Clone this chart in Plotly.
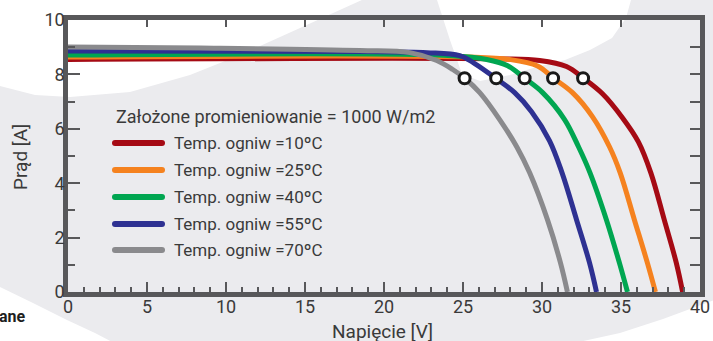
import plotly.graph_objects as go

# ---------------- data ----------------
series_names = ["Temp. ogniw =10ºC", "Temp. ogniw =25ºC", "Temp. ogniw =40ºC",
                "Temp. ogniw =55ºC", "Temp. ogniw =70ºC"]
series_colors = ["#a50a14", "#f5821f", "#00a651", "#2e3192", "#8a8a8d"]

v_10 = [0, 27.32, 29.85, 31.55, 32.63, 33.83, 35.09, 36.10, 36.89, 37.74, 38.50, 38.90]
i_10 = [8.55, 8.57, 8.51, 8.29, 7.86, 7.29, 6.41, 5.52, 4.38, 2.65, 1.07, 0]

v_25 = [0, 25.43, 27.95, 29.72, 30.73, 31.93, 33.19, 34.27, 34.95, 35.85, 36.67, 37.18]
i_25 = [8.64, 8.64, 8.55, 8.31, 7.86, 7.33, 6.45, 5.34, 4.38, 2.65, 1.07, 0]

v_40 = [0, 24.35, 26.50, 27.83, 28.90, 30.04, 31.43, 32.31, 33.04, 34.08, 34.90, 35.41]
i_40 = [8.71, 8.69, 8.55, 8.32, 7.86, 7.33, 6.34, 5.34, 4.38, 2.65, 1.07, 0]

v_55 = [0, 18.48, 22.71, 24.79, 25.74, 27.07, 28.27, 29.34, 30.48, 31.27, 32.19, 33.01, 33.45]
i_55 = [8.86, 8.84, 8.80, 8.69, 8.40, 7.86, 7.33, 6.63, 5.56, 4.38, 2.65, 1.07, 0]

v_70 = [0, 8.37, 18.48, 21.64, 23.34, 24.35, 25.11, 26.06, 27.32, 28.40, 29.22, 30.35, 31.17, 31.61]
i_70 = [9.01, 8.97, 8.88, 8.80, 8.51, 8.18, 7.86, 7.33, 6.34, 5.34, 4.38, 2.65, 1.07, 0]

mpp_v = [25.1, 27.1, 28.9, 30.7, 32.6]
mpp_i = [7.86, 7.86, 7.86, 7.86, 7.86]

series_v = [v_10, v_25, v_40, v_55, v_70]
series_i = [i_10, i_25, i_40, i_55, i_70]

legend_title = "Założone promieniowanie = 1000 W/m2"
x_title = "Napięcie [V]"
y_title = "Prąd [A]"
x_ticks = [0, 5, 10, 15, 20, 25, 30, 35, 40]
y_ticks = [0, 2, 4, 6, 8, 10]

# ---------------- layout geometry ----------------
W, H = 713, 341
L, R, T, B = 68, 700, 20, 292
FRAME = "#58585a"
TXT = "#3a3a3a"
FONT = "Roboto"


def px(x):
    return (x - L) / (R - L)


def py(y):
    return (B - y) / (B - T)


def poly(points):
    return "M " + " L ".join(f"{px(x):.4f},{py(y):.4f}" for x, y in points) + " Z"


fig = go.Figure()

for name, col, vv, ii in zip(series_names, series_colors, series_v, series_i):
    fig.add_trace(go.Scatter(x=vv, y=ii, mode="lines", name=name,
                             line=dict(color=col, width=5, shape="spline", smoothing=1.0),
                             showlegend=False, hoverinfo="skip"))

fig.add_trace(go.Scatter(x=mpp_v, y=mpp_i, mode="markers", xaxis="x2", yaxis="y2",
                         marker=dict(size=11, color="white",
                                     line=dict(color="#1a1a1a", width=3)),
                         showlegend=False, hoverinfo="skip"))

shapes = []
# background white swooshes
white_regions = [
    [(-10, -10), (-10, 86), (0, 86), (35, 95), (70, 97), (130, 92), (190, 75),
     (240, 55), (300, 28), (384, -10)],
    [(433, -10), (437, 0), (450, 40), (462, 74), (480, 81), (510, 75), (540, 66),
     (565, 60), (590, 50), (612, 38), (626, 18), (631, 0), (632, -10)],
    [(-10, 282), (0, 287), (33, 303), (67, 320), (95, 333), (118, 345), (-10, 345)],
    [(565, 345), (620, 333), (663, 319), (720, 298), (720, 345)],
]
for reg in white_regions:
    shapes.append(dict(type="path", xref="paper", yref="paper", path=poly(reg),
                       fillcolor="white", line=dict(width=0), layer="below"))

# manual legend
annotations = []
leg_y = [143, 170, 197, 224, 250]
for name, col, ly in zip(series_names, series_colors, leg_y):
    shapes.append(dict(type="line", xref="paper", yref="paper",
                       x0=px(115), x1=px(162), y0=py(ly), y1=py(ly),
                       line=dict(color=col, width=6), layer="above"))
    for cx in (115, 162):
        shapes.append(dict(type="circle", xref="paper", yref="paper",
                           xsizemode="pixel", ysizemode="pixel",
                           xanchor=px(cx), yanchor=py(ly),
                           x0=-3, x1=3, y0=-3, y1=3,
                           fillcolor=col, line=dict(width=0), layer="above"))
    annotations.append(dict(text=name, xref="paper", yref="paper",
                            x=px(172), y=py(ly), xanchor="left", yanchor="middle",
                            showarrow=False,
                            font=dict(family=FONT, size=17, color=TXT)))

annotations.append(dict(text=legend_title, xref="paper", yref="paper",
                        x=px(114), y=py(117), xanchor="left", yanchor="middle",
                        showarrow=False, font=dict(family=FONT, size=18, color=TXT)))
annotations.append(dict(text=x_title, xref="paper", yref="paper",
                        x=px(382), y=py(331), xanchor="center", yanchor="middle",
                        showarrow=False, font=dict(family=FONT, size=19, color=TXT)))
annotations.append(dict(text=y_title, xref="paper", yref="paper", textangle=-90,
                        x=px(20), y=py(157), xanchor="center", yanchor="middle",
                        showarrow=False, font=dict(family=FONT, size=19, color=TXT)))
annotations.append(dict(text="<b>ane</b>", xref="paper", yref="paper",
                        x=px(28), y=py(316), xanchor="right", yanchor="middle",
                        showarrow=False, font=dict(family=FONT, size=16, color="#1e1e1e")))

axis_common = dict(showgrid=False, zeroline=False, showline=True, linewidth=4.5,
                   linecolor=FRAME, ticks="inside", tickcolor=FRAME, layer="above traces",
                   automargin=False, fixedrange=True)

fig.update_layout(
    width=W, height=H,
    margin=dict(l=L, r=W - R, t=T, b=H - B, pad=0, autoexpand=False),
    paper_bgcolor="#ebebee",
    plot_bgcolor="rgba(0,0,0,0)",
    showlegend=False,
    xaxis=dict(range=[0, 40], tickvals=x_ticks, ticklen=10, tickwidth=2,
               tickfont=dict(family=FONT, size=18, color=TXT),
               ticklabelstandoff=-5,
               minor=dict(dtick=1, ticks="inside", ticklen=5, tickwidth=1.5, tickcolor=FRAME),
               **axis_common),
    yaxis=dict(range=[0, 10], tickvals=y_ticks, ticklen=12, tickwidth=2,
               tickfont=dict(family=FONT, size=18, color=TXT),
               ticklabelstandoff=-5,
               minor=dict(dtick=1, ticks="inside", ticklen=7, tickwidth=1.5, tickcolor=FRAME),
               **axis_common),
    xaxis2=dict(range=[0, 40], overlaying="x", side="top", tickvals=x_ticks[1:-1],
                ticklen=7, tickwidth=2, showticklabels=False, **axis_common),
    yaxis2=dict(range=[0, 10], overlaying="y", side="right", dtick=1,
                ticklen=10, tickwidth=2, showticklabels=False, **axis_common),
    shapes=shapes,
    annotations=annotations,
)

fig.write_html("out.html", config={"displayModeBar": False},
               post_script="document.body.style.margin='0';document.body.style.overflow='hidden';")
